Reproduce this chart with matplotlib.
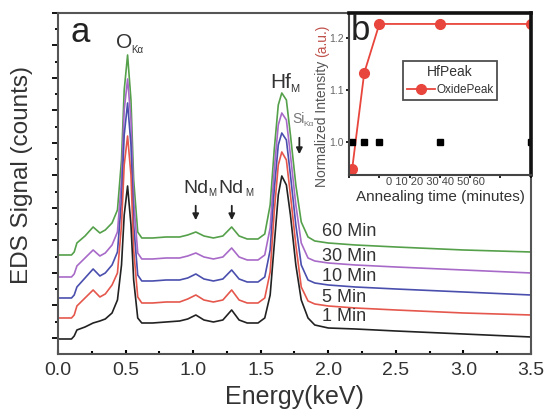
import numpy as np
import matplotlib
matplotlib.use('Agg')
import matplotlib.pyplot as plt
from matplotlib.ticker import MultipleLocator, FormatStrFormatter

plt.rcParams['font.family'] = ['Liberation Sans', 'DejaVu Sans']

# EDS spectra (energy in keV, signal in arbitrary counts, offset per curve)
energy = [0.0, 0.1, 0.12, 0.14, 0.2, 0.26, 0.31, 0.35, 0.40, 0.44,
          0.47, 0.49, 0.515, 0.54, 0.56, 0.59, 0.62, 0.7, 0.8, 0.9,
          0.96, 1.02, 1.08, 1.15, 1.22, 1.285, 1.34, 1.4, 1.48, 1.53,
          1.57, 1.60, 1.63, 1.656, 1.69, 1.72, 1.76, 1.80, 1.85, 1.9,
          2.0, 2.2, 2.5, 3.0, 3.5]

min1 = [-1, -1, 2, 8, 11, 15, 17, 19, 25, 38,
        73, 123, 152, 113, 58, 20, 15, 15, 16, 17,
        19, 23, 18, 16, 18, 28, 18, 15, 15, 20,
        43, 93, 143, 162, 153, 123, 73, 38, 20, 13,
        10, 9, 7, 4, 1]
min5 = [20, 20, 23, 32, 40, 48, 41, 44, 53, 65,
        113, 173, 202, 163, 88, 41, 35, 35, 36, 36,
        39, 43, 38, 36, 38, 48, 38, 35, 35, 40,
        66, 126, 173, 186, 178, 143, 93, 51, 37, 34,
        32, 30, 28, 25, 23]
min10 = [40, 40, 43, 51, 60, 69, 62, 65, 73, 86,
         138, 203, 235, 193, 113, 63, 57, 57, 58, 58,
         60, 64, 59, 57, 59, 68, 59, 56, 56, 61,
         88, 148, 193, 205, 198, 163, 113, 73, 58, 55,
         53, 51, 49, 46, 43]
min30 = [61, 61, 64, 72, 80, 88, 82, 85, 93, 106,
         158, 228, 259, 218, 138, 85, 79, 79, 80, 80,
         82, 85, 81, 79, 81, 90, 81, 78, 78, 83,
         110, 168, 213, 225, 218, 183, 133, 95, 80, 77,
         75, 73, 71, 68, 65]
min60 = [83, 83, 86, 95, 102, 111, 105, 108, 115, 128,
         178, 248, 283, 238, 158, 106, 100, 100, 101, 101,
         103, 106, 102, 100, 102, 111, 102, 99, 99, 104,
         133, 188, 233, 245, 238, 203, 153, 116, 101, 97,
         95, 93, 91, 88, 86]

spectra = [min60, min30, min10, min5, min1]
names = ['60 Min', '30 Min', '10 Min', '5 Min', '1 Min']
colors = ['#55a04a', '#a86ac8', '#4a4fae', '#e5574c', '#222222']
label_y = [106, 81, 61, 40, 21]

# inset: normalized intensity vs annealing time
anneal_time = [1, 5, 10, 30, 60]
oxide_peak = [0.948, 1.133, 1.227, 1.227, 1.227]
hf_peak = [1.0, 1.0, 1.0, 1.0, 1.0]

fig = plt.figure(figsize=(5.45, 4.12), dpi=100)
ax = fig.add_axes([0.1064, 0.1408, 0.8679, 0.8277])

for y, c in zip(spectra, colors):
    ax.plot(energy, y, color=c, lw=1.2)

ax.set_xlim(0, 3.5)
ax.set_ylim(-16, 325)
ax.xaxis.set_major_locator(MultipleLocator(0.5))
ax.xaxis.set_minor_locator(MultipleLocator(0.25))
ax.xaxis.set_major_formatter(FormatStrFormatter('%.1f'))
ax.yaxis.set_major_locator(MultipleLocator(32.5))
ax.yaxis.set_minor_locator(MultipleLocator(16.25))
ax.set_yticklabels([])
ax.tick_params(axis='x', which='both', direction='in', labelsize=14,
               labelcolor='#333333', pad=6)
ax.tick_params(axis='x', which='major', length=3, width=1.5)
ax.tick_params(axis='x', which='minor', length=2, width=1.5)
ax.tick_params(axis='y', which='major', direction='out', length=4, width=1.3)
ax.tick_params(axis='y', which='minor', direction='out', length=2.5, width=1.3)
for s in ax.spines.values():
    s.set_color('#555555')
    s.set_linewidth(1.5)
ax.set_xlabel('Energy(keV)', fontsize=18, color='#333333', labelpad=4)
ax.set_ylabel('EDS Signal (counts)', fontsize=17.5, color='#333333')
ax.yaxis.set_label_coords(-0.052, 0.525)

# labels on the spectra
ax.text(0.163, 305, 'a', fontsize=25, ha='center', va='center', color='#222222')
ax.text(0.429, 290, 'O', fontsize=15, color='#333333', va='baseline')
ax.text(0.545, 285, 'K\u03b1', fontsize=7, color='#333333', va='baseline')
ax.text(1.569, 250, 'Hf', fontsize=15, color='#333333', va='baseline')
ax.text(1.717, 246, 'M', fontsize=8, color='#333333', va='baseline')
ax.text(1.732, 215, 'Si', fontsize=10, color='#777777', va='baseline')
ax.text(1.815, 212, 'K\u03b1', fontsize=6, color='#777777', va='baseline')
ax.text(0.925, 145, 'Nd', fontsize=14, color='#333333', va='baseline')
ax.text(1.110, 142, 'M', fontsize=7, color='#333333', va='baseline')
ax.text(1.184, 145, 'Nd', fontsize=14, color='#333333', va='baseline')
ax.text(1.384, 142, 'M', fontsize=7, color='#333333', va='baseline')

arrow = dict(arrowstyle='-|>', color='#222222', lw=1.3, mutation_scale=9)
ax.annotate('', xy=(1.019, 115), xytext=(1.019, 135), arrowprops=arrow)
ax.annotate('', xy=(1.286, 115), xytext=(1.286, 135), arrowprops=arrow)
ax.annotate('', xy=(1.786, 181), xytext=(1.786, 203), arrowprops=arrow)

for n, ly in zip(names, label_y):
    ax.text(1.952, ly, n, fontsize=13, color='#333333', va='center')

# inset
axin = fig.add_axes([0.6397, 0.5752, 0.3346, 0.3932])
axin.plot(anneal_time, oxide_peak, color='#e8453c', lw=1.3, marker='o',
          markersize=7, label='OxidePeak')
axin.plot(anneal_time, hf_peak, color='black', lw=0, marker='s',
          markersize=4.5)
axin.set_xlim(-0.15, 60.1)
axin.set_ylim(0.937, 1.248)
axin.set_xticks([0, 10, 20, 30, 40, 50, 60])
axin.set_xticklabels([])
axin.set_yticks([1.0, 1.1, 1.2])
axin.set_yticklabels(['1.0', '1.1', '1.2'])
axin.tick_params(axis='both', direction='out', length=2.5, width=1.2,
                 labelsize=7.5, labelcolor='#666666', pad=1)
for side in ['left', 'bottom']:
    axin.spines[side].set_linewidth(1.5)
    axin.spines[side].set_color('#444444')
for side in ['top', 'right']:
    axin.spines[side].set_linewidth(2.6)
    axin.spines[side].set_color('#111111')

axin.text(0.474, -0.043, '0 10 20 30 40 50 60', fontsize=8, color='#444444',
          ha='center', va='center', transform=axin.transAxes)
axin.text(0.502, -0.136, 'Annealing time (minutes)', fontsize=11,
          color='#333333', ha='center', va='center', transform=axin.transAxes)
axin.text(0.013, 0.833, 'b', fontsize=25, color='#222222', ha='left',
          va='baseline', transform=axin.transAxes)

fig.text(0.591, 0.546, 'Normalized Intensity', rotation=90, fontsize=10,
         color='#555555', ha='center', va='bottom')
fig.text(0.591, 0.862, '(a.u.)', rotation=90, fontsize=10,
         color='#c0504a', ha='center', va='bottom')

leg = axin.legend(loc='upper left', bbox_to_anchor=(0.298, 0.704),
                  title='HfPeak', fontsize=8.5, title_fontsize=10,
                  frameon=True, fancybox=False, borderaxespad=0,
                  handlelength=2.4, handletextpad=0.1, borderpad=0.3)
leg.get_frame().set_edgecolor('#222222')
leg.get_frame().set_linewidth(1.3)
leg.get_title().set_color('#333333')
for t in leg.get_texts():
    t.set_color('#333333')

fig.savefig('out.png', dpi=100)
